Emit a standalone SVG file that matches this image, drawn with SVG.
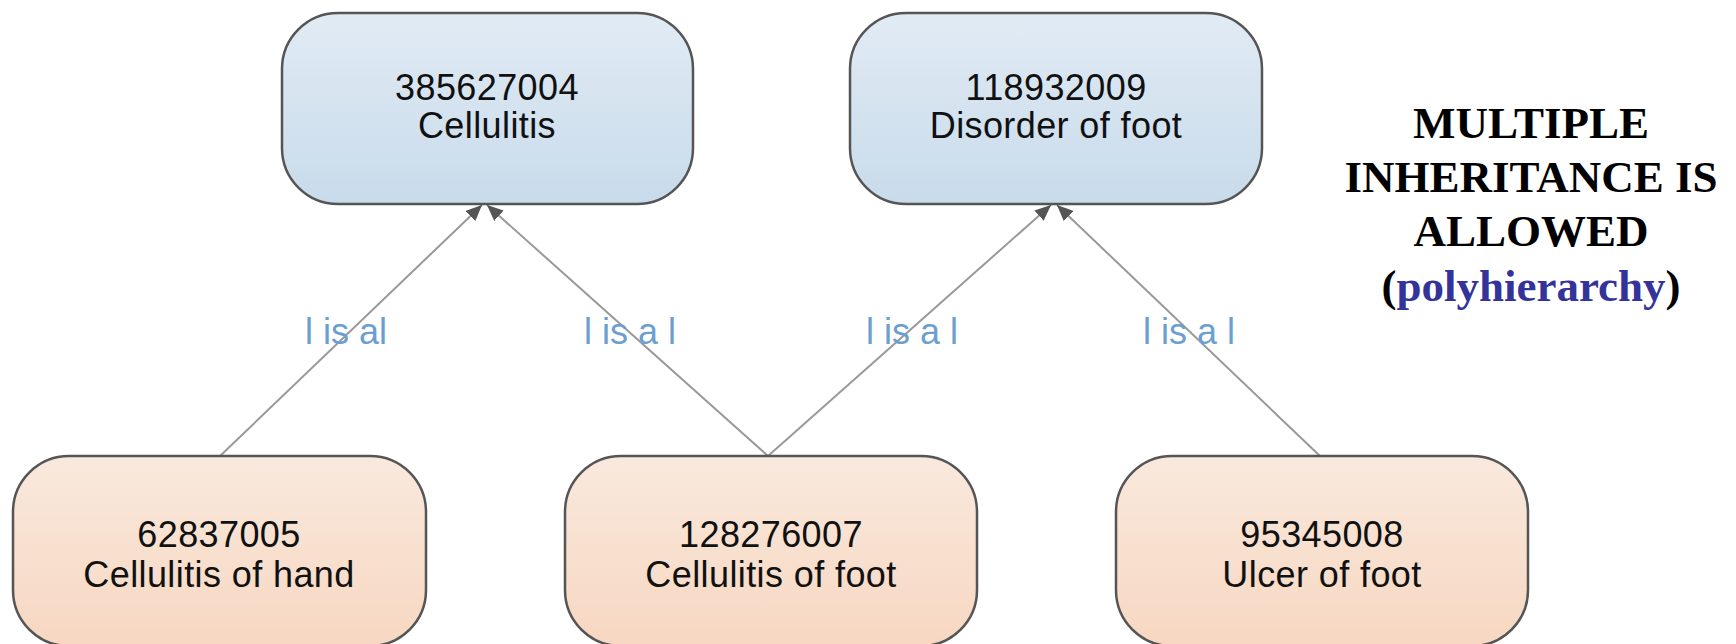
<svg xmlns="http://www.w3.org/2000/svg" width="1736" height="644" viewBox="0 0 1736 644">
<style>
.box{stroke:#555;stroke-width:2.5}
.blue{fill:url(#gBlue)}
.orange{fill:url(#gOrange)}
.nt{font-family:"Liberation Sans",Arial,sans-serif;font-size:36px;fill:#111;text-anchor:middle;letter-spacing:0.4px}
.conn{stroke:#999;stroke-width:2;fill:none;marker-end:url(#arr)}
.lbl{font-family:"Liberation Sans",Arial,sans-serif;font-size:36px;fill:#6c9fcf;text-anchor:middle}
.title{font-family:"Liberation Serif","Times New Roman",serif;font-weight:bold;font-size:45px;fill:#000;text-anchor:middle}
</style>
<defs>
<linearGradient id="gBlue" x1="0" y1="0" x2="0" y2="1">
<stop offset="0" stop-color="#e1ebf4"/>
<stop offset="1" stop-color="#c8dbeb"/>
</linearGradient>
<linearGradient id="gOrange" x1="0" y1="0" x2="0" y2="1">
<stop offset="0" stop-color="#f9e9dd"/>
<stop offset="1" stop-color="#f7d7c1"/>
</linearGradient>
<marker id="arr" markerWidth="16" markerHeight="14" refX="16" refY="7" orient="auto" markerUnits="userSpaceOnUse">
<path d="M0,0 L16,7 L0,14 Z" fill="#555"/>
</marker>
</defs>
<rect width="1736" height="644" fill="#fff"/>
<g id="connectors">
<line class="conn" x1="220" y1="456" x2="482" y2="205"/>
<line class="conn" x1="768" y1="456" x2="487" y2="205"/>
<line class="conn" x1="768" y1="456" x2="1051" y2="205"/>
<line class="conn" x1="1320" y1="456" x2="1057" y2="205"/>
<text class="lbl" x="346" y="344">l is al</text>
<text class="lbl" x="630" y="344">l is a l</text>
<text class="lbl" x="912" y="344">l is a l</text>
<text class="lbl" x="1189" y="344">l is a l</text>
</g>
<g id="n385627004">
<rect class="box blue" x="282" y="13" width="411" height="191" rx="56" ry="56"/>
<text class="nt" x="487" y="100">385627004</text>
<text class="nt" x="487" y="138">Cellulitis</text>
</g>
<g id="n118932009">
<rect class="box blue" x="850" y="13" width="412" height="191" rx="56" ry="56"/>
<text class="nt" x="1056" y="100">118932009</text>
<text class="nt" x="1056" y="138">Disorder of foot</text>
</g>
<g id="n62837005">
<rect class="box orange" x="13" y="456" width="413" height="190" rx="56" ry="56"/>
<text class="nt" x="219" y="547">62837005</text>
<text class="nt" x="219" y="587">Cellulitis of hand</text>
</g>
<g id="n128276007">
<rect class="box orange" x="565" y="456" width="412" height="190" rx="56" ry="56"/>
<text class="nt" x="771" y="547">128276007</text>
<text class="nt" x="771" y="587">Cellulitis of foot</text>
</g>
<g id="n95345008">
<rect class="box orange" x="1116" y="456" width="412" height="190" rx="56" ry="56"/>
<text class="nt" x="1322" y="547">95345008</text>
<text class="nt" x="1322" y="587">Ulcer of foot</text>
</g>
<g id="note">
<text class="title" x="1531" y="138">MULTIPLE</text>
<text class="title" x="1531" y="192">INHERITANCE IS</text>
<text class="title" x="1531" y="246">ALLOWED</text>
<text class="title" x="1531" y="301">(<tspan fill="#333399">polyhierarchy</tspan>)</text>
</g>
</svg>
